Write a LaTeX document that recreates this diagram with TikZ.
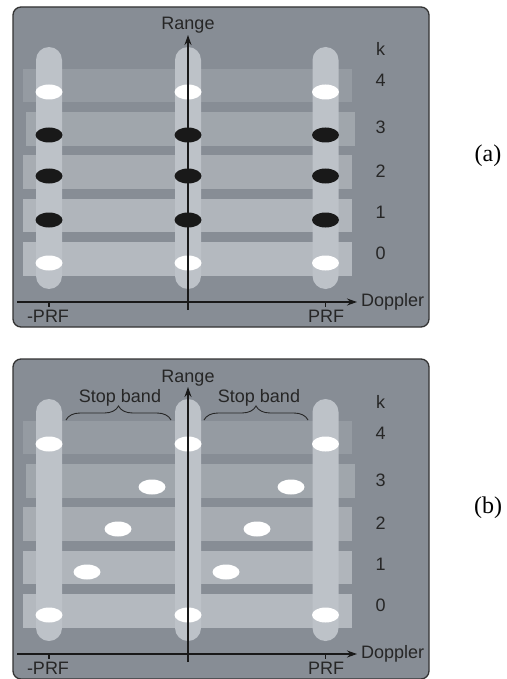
\documentclass[tikz,border=0pt]{standalone}
\usepackage{fontspec}
\setmainfont{Liberation Serif}
\setsansfont{Liberation Sans}
\usetikzlibrary{arrows.meta,shapes.geometric,decorations.pathreplacing}

\definecolor{panelgray}{HTML}{878D95}
\definecolor{pillgray}{HTML}{BDC2C8}
\definecolor{bandfour}{HTML}{959BA2}
\definecolor{bandthree}{HTML}{A0A6AC}
\definecolor{bandtwo}{HTML}{A7ACB2}
\definecolor{bandone}{HTML}{B0B5BB}
\definecolor{bandzero}{HTML}{B4B9BF}
\definecolor{inkgray}{HTML}{262626}

\tikzset{
	axislbl/.style={font=\sffamily\fontsize{18}{20}\selectfont, text=inkgray, inner sep=0pt, anchor=base},
	boxline/.style={line width=1.3pt, draw=black!80, rounded corners=8},
	axisline/.style={line width=1.2pt, draw=black!90},
	blip/.style={ellipse, minimum width=27pt, minimum height=15pt, inner sep=0pt},
	stopbrace/.style={decorate, decoration={brace, amplitude=14pt}, line width=0.9pt, draw=inkgray}
}

\begin{document}
\begin{tikzpicture}[x=1pt,y=-1pt]
		%%%%% START %%%%%
		
		\useasboundingbox[fill=white] (0,0) rectangle (506,679);
		
		\foreach \p/\dy in {a/0,b/352}{
			\begin{scope}[shift={(0,\dy)}]
				\draw[boxline, fill=panelgray] (13,7) rectangle (429,327);
				
				% range bands k=4..0
				\fill[bandfour] (23,69) rectangle (352,102);
				\fill[bandthree] (26,112) rectangle (355,146);
				\fill[bandtwo] (23,155) rectangle (352,189);
				\fill[bandone] (23,199) rectangle (352,232);
				\fill[bandzero] (23,242) rectangle (352,276);
				
				% ambiguity columns
				\foreach \cx in {49,188,325.5}
					\fill[pillgray, rounded corners=13] (\cx-13,47) rectangle (\cx+13,289);
				
				% white returns at k=4 and k=0
				\foreach \cx [count=\i] in {49,188,325.5}{
					\node[blip, fill=white] (top\p\i) at (\cx,92) {};
					\node[blip, fill=white] (bot\p\i) at (\cx,263) {};
				}
				
				\node[axislbl] (k\p) at (380.5,56) {k};
				\node[axislbl] (kf\p) at (380.5,87) {4};
				\node[axislbl] (kt\p) at (380.5,134) {3};
				\node[axislbl] (kw\p) at (380.5,177.5) {2};
				\node[axislbl] (ko\p) at (380.5,218) {1};
				\node[axislbl] (kz\p) at (380.5,259) {0};
				
				\node[font=\fontsize{24}{26}\selectfont, anchor=base] (tag\p) at (488,161) {(\p)};
			\end{scope}
		}
		
		% (a): folded returns on every column
		\foreach \cx [count=\i] in {49,188,325.5}{
			\node[blip, fill=black!90] (k3a\i) at (\cx,135) {};
			\node[blip, fill=black!90] (k2a\i) at (\cx,176) {};
			\node[blip, fill=black!90] (k1a\i) at (\cx,220) {};
		}
		
		% (b): returns moved into the stop bands
		\begin{scope}[shift={(0,352)}]
			\foreach \dx/\ky in {103/135,69/177,38/220}{
				\node[blip, fill=white] at (49+\dx,\ky) {};
				\node[blip, fill=white] at (188+\dx,\ky) {};
			}
			\coordinate (sbl1) at (66,68);
			\coordinate (sbl2) at (171,68);
			\coordinate (sbr1) at (204,68);
			\coordinate (sbr2) at (308,68);
			\draw[stopbrace] (sbl1) -- (sbl2);
			\draw[stopbrace] (sbr1) -- (sbr2);
			\node[axislbl] (stopl) at (120,50) {Stop band};
			\node[axislbl] (stopr) at (259,50) {Stop band};
		\end{scope}
		
		% axes on top
		\foreach \p/\dy in {a/0,b/352}{
			\begin{scope}[shift={(0,\dy)}]
				\coordinate (rbot\p) at (188,310);
				\coordinate (rtop\p) at (188,35);
				\coordinate (dlft\p) at (17,302);
				\coordinate (drgt\p) at (357,302);
				\draw[axisline, -{Stealth[length=10pt,width=7pt]}] (rbot\p) -- (rtop\p);
				\draw[axisline, -{Stealth[length=10pt,width=7pt]}] (dlft\p) -- (drgt\p);
				\draw[axisline] (49,302) -- (49,307);
				\draw[axisline] (325.5,302) -- (325.5,307);
				\node[axislbl] (range\p) at (188,30) {Range};
				\node[axislbl, anchor=base west] (doppler\p) at (361,306) {Doppler};
				\node[axislbl] (nprf\p) at (48,322) {-PRF};
				\node[axislbl] (prf\p) at (326,322) {PRF};
			\end{scope}
		}
		
		%%%%% END %%%%%
\end{tikzpicture}
\end{document}
